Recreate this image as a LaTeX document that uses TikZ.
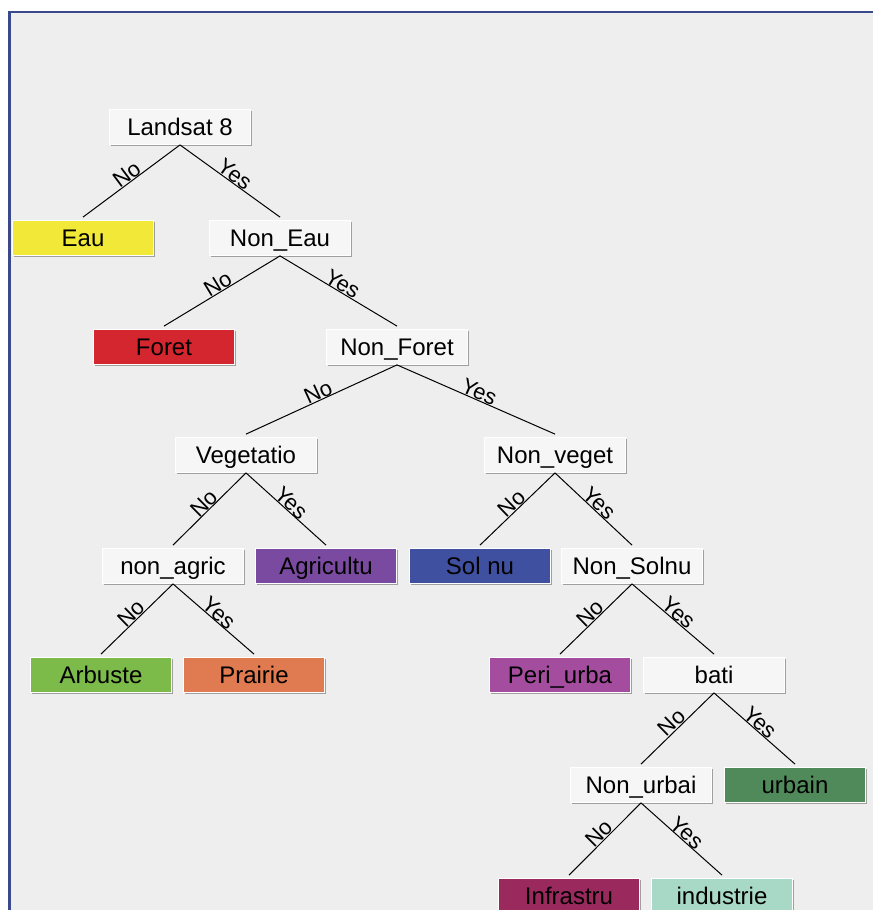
\documentclass[tikz,border=0pt]{standalone}
\usepackage{fontspec}
\setmainfont{Liberation Sans}
\usetikzlibrary{shadows}
\definecolor{bgrey}{RGB}{238, 238, 238}
\definecolor{fblue}{RGB}{58, 72, 140}
\definecolor{boxw}{RGB}{246, 246, 246}
\definecolor{ceau}{RGB}{242, 232, 55}
\definecolor{cforet}{RGB}{212, 38, 46}
\definecolor{cagri}{RGB}{122, 74, 160}
\definecolor{csol}{RGB}{64, 80, 160}
\definecolor{carb}{RGB}{124, 186, 74}
\definecolor{cprai}{RGB}{224, 122, 80}
\definecolor{cperi}{RGB}{164, 76, 158}
\definecolor{curb}{RGB}{80, 138, 90}
\definecolor{cinfra}{RGB}{154, 42, 94}
\definecolor{cindu}{RGB}{168, 216, 198}

\tikzset{
  cls/.style={minimum width=141pt, minimum height=35pt, inner sep=0pt,
    text height=17pt, text depth=0pt,
    draw=white, line width=0.8pt, font=\fontsize{24}{24}\selectfont,
    drop shadow={shadow xshift=1.2pt, shadow yshift=-1.2pt, fill=gray!75, opacity=1}},
  test/.style={cls, fill=boxw},
  br/.style={line width=1pt},
  lbl/.style={midway, sloped, above, inner sep=0pt, font=\fontsize{22}{22}\selectfont}
}

\begin{document}
\begin{tikzpicture}[x=1pt, y=-1pt]

      \useasboundingbox (0, 0) rectangle (873, 910);
      \clip (0, 0) rectangle (873, 910);
      \fill [white] (0, 0) rectangle (873, 910);
      \fill [bgrey] (10, 13) rectangle (873, 910);
      \draw [fblue, line width=2.4pt] (9.5, 912) -- (9.5, 12) -- (873, 12);

      % test nodes
      \node [test] (landsat) at (180, 127) {Landsat 8};
      \node [test] (noneau) at (280, 238) {Non\_Eau};
      \node [test] (nonforet) at (397, 347) {Non\_Foret};
      \node [test] (vegetatio) at (246, 455) {Vegetatio};
      \node [test] (nonveget) at (555, 455) {Non\_veget};
      \node [test] (nonagric) at (173, 566) {non\_agric};
      \node [test] (nonsolnu) at (632, 566) {Non\_Solnu};
      \node [test] (bati) at (714, 675) {bati};
      \node [test] (nonurbai) at (641, 785) {Non\_urbai};

      % classes
      \node [cls, fill=ceau] (eau) at (83, 238) {Eau};
      \node [cls, fill=cforet] (foret) at (164, 347) {Foret};
      \node [cls, fill=cagri] (agricultu) at (326, 566) {Agricultu};
      \node [cls, fill=csol] (solnu) at (480, 566) {Sol nu};
      \node [cls, fill=carb] (arbuste) at (101, 675) {Arbuste};
      \node [cls, fill=cprai] (prairie) at (254, 675) {Prairie};
      \node [cls, fill=cperi] (periurba) at (560, 675) {Peri\_urba};
      \node [cls, fill=curb] (urbain) at (795, 785) {urbain};
      \node [cls, fill=cinfra] (infrastru) at (569, 896) {Infrastru};
      \node [cls, fill=cindu] (industrie) at (722, 896) {industrie};

      % branches
      \draw [br] (landsat.south) -- ([yshift=3pt]eau.north) node [lbl] {No};
      \draw [br] (landsat.south) -- ([yshift=3pt]noneau.north) node [lbl] {Yes};
      \draw [br] (noneau.south) -- ([yshift=3pt]foret.north) node [lbl] {No};
      \draw [br] (noneau.south) -- ([yshift=3pt]nonforet.north) node [lbl] {Yes};
      \draw [br] (nonforet.south) -- ([yshift=3pt]vegetatio.north) node [lbl] {No};
      \draw [br] (nonforet.south) -- ([yshift=3pt]nonveget.north) node [lbl] {Yes};
      \draw [br] (vegetatio.south) -- ([yshift=3pt]nonagric.north) node [lbl] {No};
      \draw [br] (vegetatio.south) -- ([yshift=3pt]agricultu.north) node [lbl] {Yes};
      \draw [br] (nonveget.south) -- ([yshift=3pt]solnu.north) node [lbl] {No};
      \draw [br] (nonveget.south) -- ([yshift=3pt]nonsolnu.north) node [lbl] {Yes};
      \draw [br] (nonagric.south) -- ([yshift=3pt]arbuste.north) node [lbl] {No};
      \draw [br] (nonagric.south) -- ([yshift=3pt]prairie.north) node [lbl] {Yes};
      \draw [br] (nonsolnu.south) -- ([yshift=3pt]periurba.north) node [lbl] {No};
      \draw [br] (nonsolnu.south) -- ([yshift=3pt]bati.north) node [lbl] {Yes};
      \draw [br] (bati.south) -- ([yshift=3pt]nonurbai.north) node [lbl] {No};
      \draw [br] (bati.south) -- ([yshift=3pt]urbain.north) node [lbl] {Yes};
      \draw [br] (nonurbai.south) -- ([yshift=3pt]infrastru.north) node [lbl] {No};
      \draw [br] (nonurbai.south) -- ([yshift=3pt]industrie.north) node [lbl] {Yes};
    \end{tikzpicture}
\end{document}
